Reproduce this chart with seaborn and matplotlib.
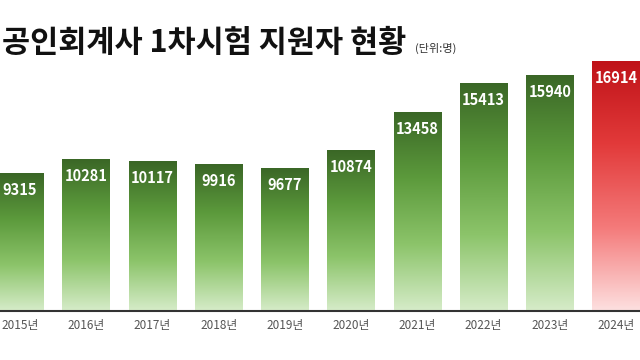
import matplotlib
matplotlib.use("Agg")
import matplotlib.pyplot as plt
import numpy as np
import pandas as pd
import seaborn as sns
from matplotlib.colors import LinearSegmentedColormap

years = ['2015년', '2016년', '2017년', '2018년', '2019년',
         '2020년', '2021년', '2022년', '2023년', '2024년']
applicants = [9315, 10281, 10117, 9916, 9677, 10874, 13458, 15413, 15940, 16914]

df = pd.DataFrame({'year': years, 'count': applicants})

sns.set_theme(style='white')
plt.rcParams['font.family'] = ['Noto Sans CJK KR', 'DejaVu Sans']

fig = plt.figure(figsize=(6.4, 3.6), dpi=100)
ax = fig.add_axes([0, 0.136, 1, 0.864])

sns.barplot(data=df, x='year', y='count', width=0.72, color='#5a9a3a', ax=ax)

green = LinearSegmentedColormap.from_list('g', ['#d6ecc9', '#8cc46a', '#5c9a3c', '#3a6626'])
red = LinearSegmentedColormap.from_list('r', ['#fde0e0', '#f47a7a', '#e23a3a', '#bf1218'])
grad = np.linspace(0, 1, 256).reshape(-1, 1)

for i, p in enumerate(ax.patches):
    x0, w, h = p.get_x(), p.get_width(), p.get_height()
    cmap = red if i == len(ax.patches) - 1 else green
    im = ax.imshow(grad, cmap=cmap, origin='lower', aspect='auto',
                   extent=[x0, x0 + w, 0, h], zorder=2)
    im.set_clip_path(p)
    p.set_facecolor('none')
    p.set_edgecolor('none')
    ax.text(x0 + w / 2, h - 1150, f'{applicants[i]}', ha='center', va='center',
            color='white', fontsize=10.5, fontweight='bold', zorder=4)

ax.set_xlim(-0.30, 9.36)
ax.set_ylim(0, 21000)
ax.set_xlabel('')
ax.set_ylabel('')
ax.set_yticks([])
ax.tick_params(axis='x', length=0, pad=6, labelsize=8.5, labelcolor='#555555')
for s in ['top', 'right', 'left']:
    ax.spines[s].set_visible(False)
ax.spines['bottom'].set_color('#333333')
ax.spines['bottom'].set_linewidth(1.5)

fig.text(0.003, 0.855, '공인회계사 1차시험 지원자 현황', fontsize=22,
         fontweight='bold', color='#111111', ha='left', va='baseline')
fig.text(0.648, 0.855, '(단위:명)', fontsize=8, color='#333333',
         ha='left', va='baseline')

fig.savefig('out.png', dpi=100)
